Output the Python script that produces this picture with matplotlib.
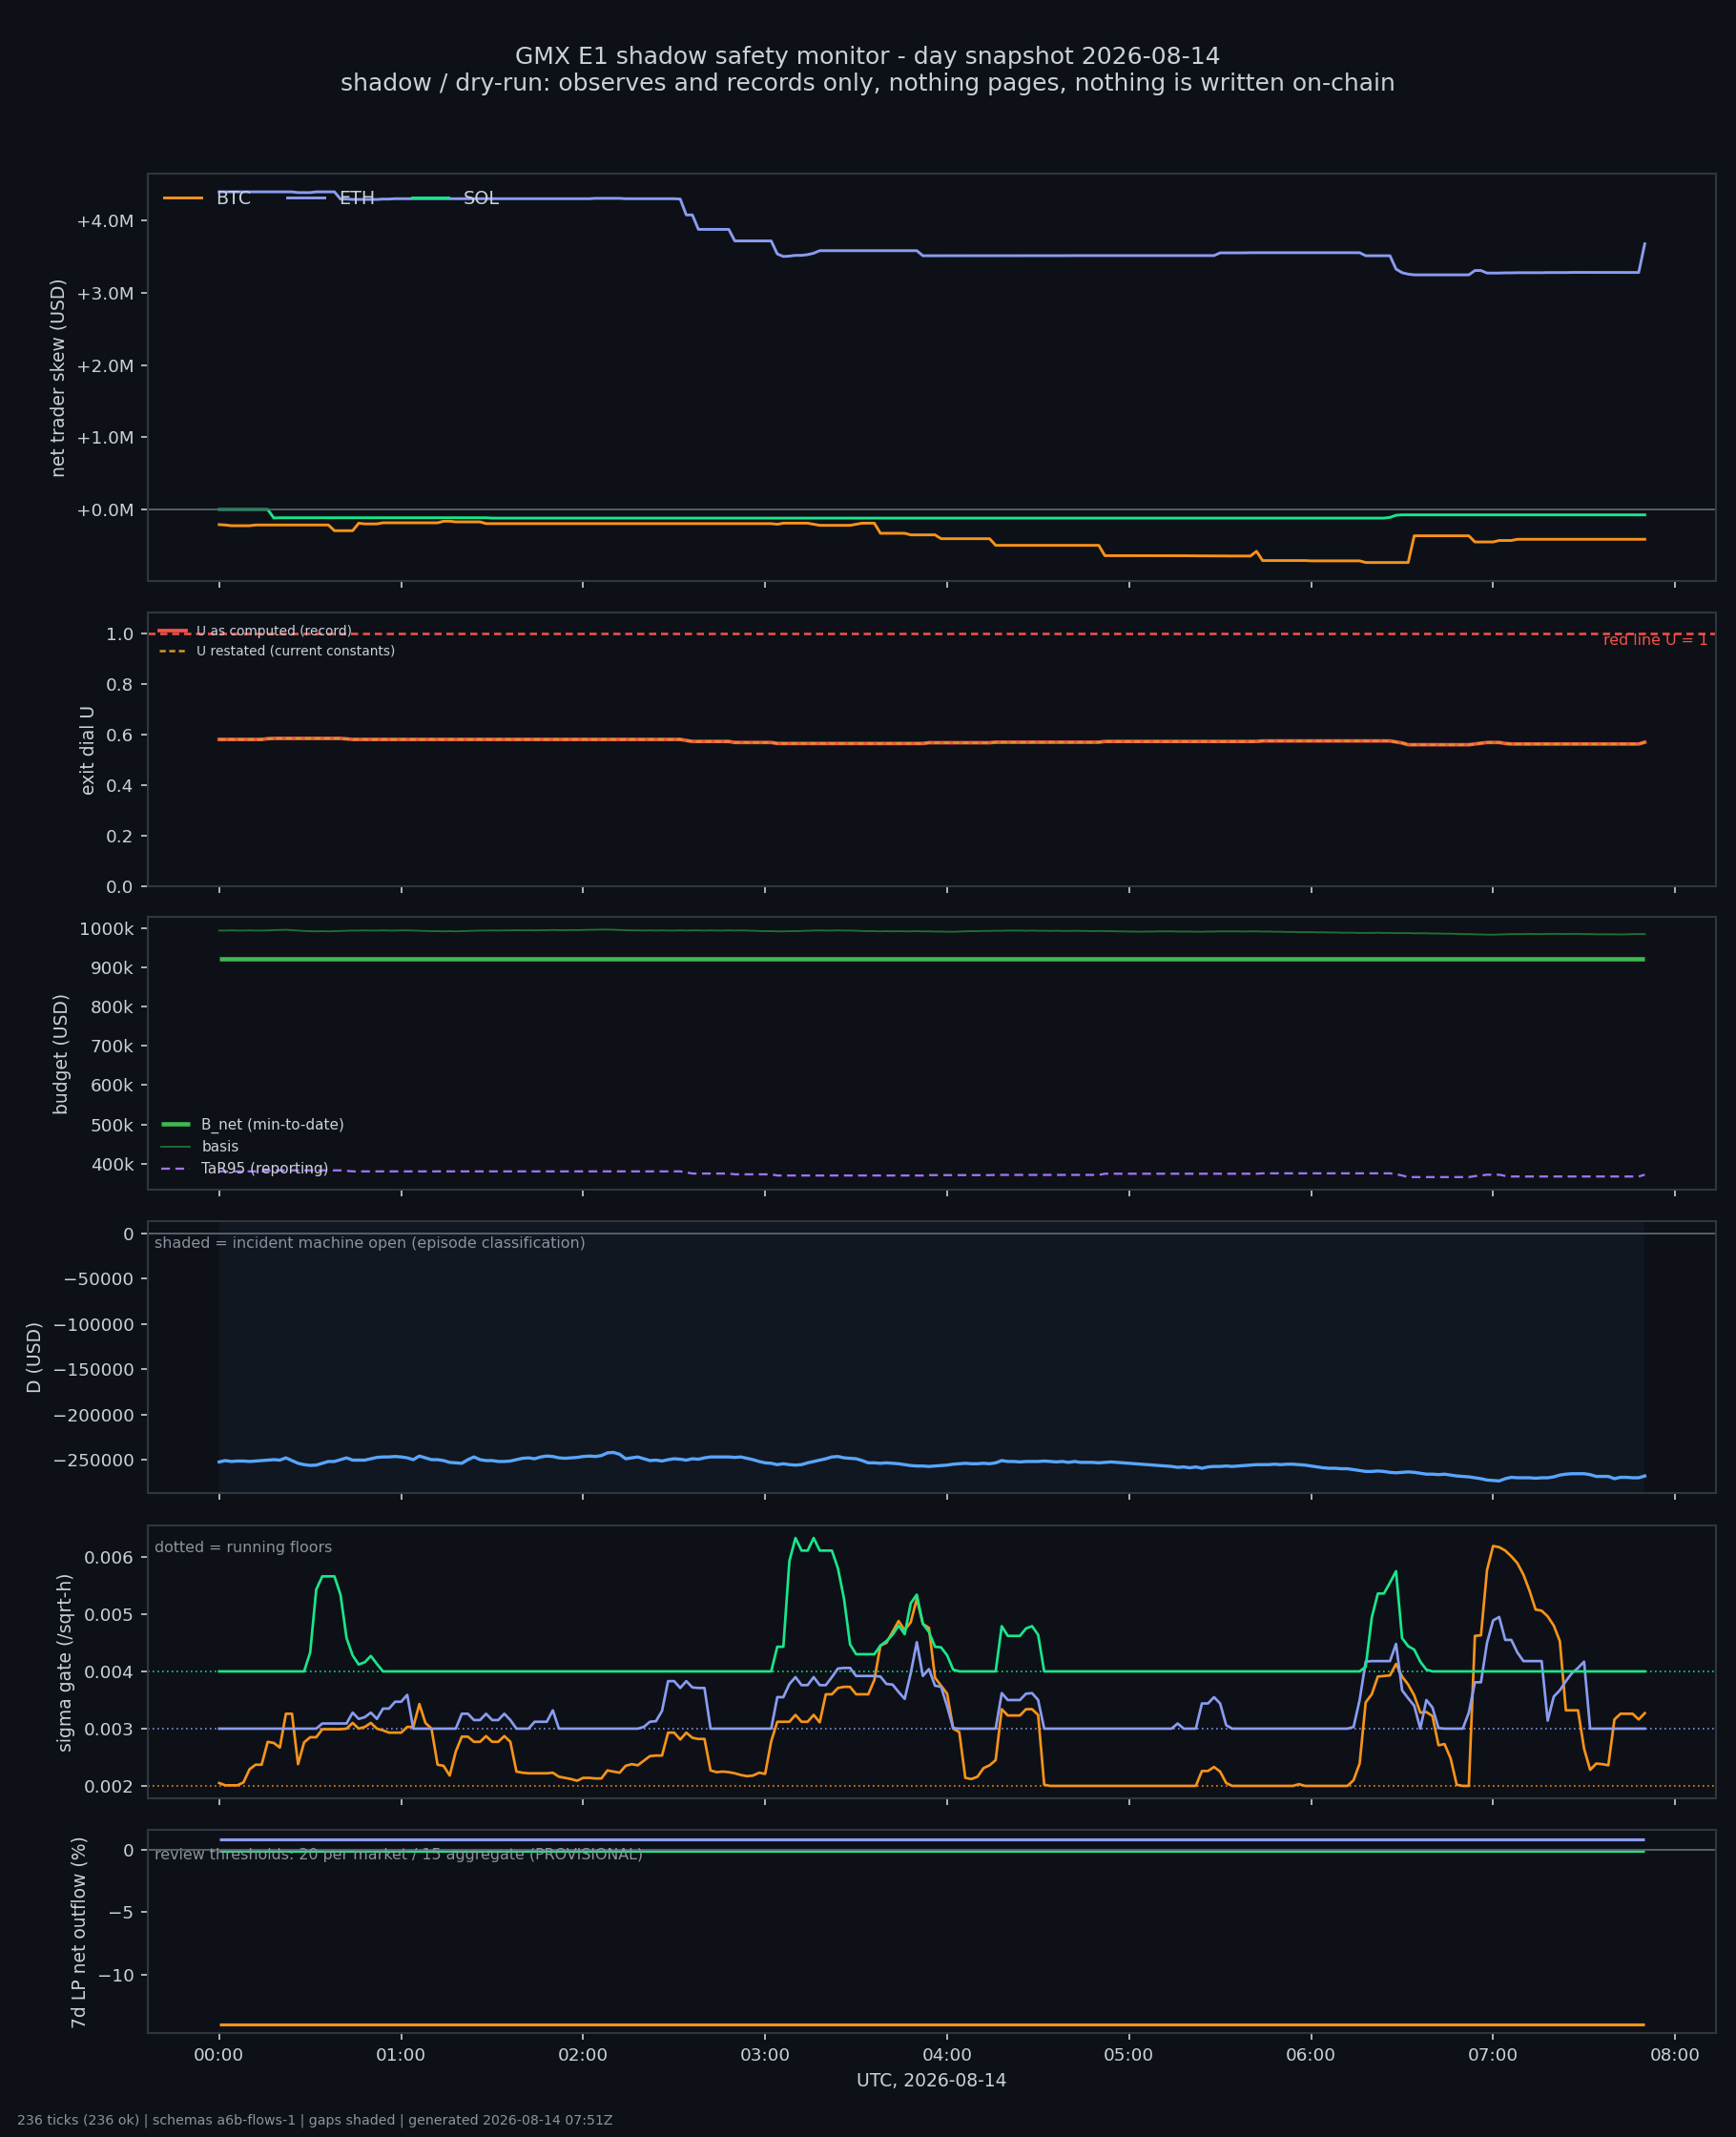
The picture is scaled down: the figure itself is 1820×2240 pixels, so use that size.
import numpy as np
import pandas as pd
import matplotlib
matplotlib.use("Agg")
import matplotlib.pyplot as plt
import matplotlib.dates as mdates
from matplotlib.ticker import FuncFormatter

# ---------------- data (236 ticks, 2-minute cadence) ----------------
tick_start = "2026-08-14 00:00"
n_ticks = 236
tick_freq = "2min"
markets = ["BTC", "ETH", "SOL"]

# net trader skew, USD millions
skew_btc = [
    -0.21, -0.215, -0.225, -0.225, -0.225, -0.225, -0.215, -0.215, -0.215, -0.215,
    -0.215, -0.215, -0.215, -0.215, -0.215, -0.215, -0.215, -0.215, -0.215, -0.294,
    -0.294, -0.294, -0.294, -0.19, -0.2, -0.2, -0.2, -0.185, -0.185, -0.185,
    -0.185, -0.185, -0.185, -0.185, -0.185, -0.185, -0.185, -0.163, -0.163, -0.172,
    -0.172, -0.172, -0.172, -0.172, -0.196, -0.196, -0.196, -0.196, -0.196, -0.196,
    -0.196, -0.196, -0.196, -0.196, -0.196, -0.196, -0.196, -0.196, -0.196, -0.196,
    -0.196, -0.196, -0.196, -0.196, -0.196, -0.196, -0.196, -0.196, -0.196, -0.196,
    -0.196, -0.196, -0.196, -0.196, -0.196, -0.196, -0.196, -0.196, -0.196, -0.196,
    -0.196, -0.196, -0.196, -0.196, -0.196, -0.196, -0.196, -0.196, -0.196, -0.196,
    -0.196, -0.196, -0.205, -0.19, -0.19, -0.19, -0.19, -0.19, -0.205, -0.22,
    -0.22, -0.22, -0.22, -0.22, -0.22, -0.205, -0.19, -0.19, -0.19, -0.33,
    -0.33, -0.33, -0.33, -0.33, -0.352, -0.352, -0.352, -0.352, -0.352, -0.405,
    -0.405, -0.405, -0.405, -0.405, -0.405, -0.405, -0.405, -0.405, -0.497, -0.497,
    -0.497, -0.497, -0.497, -0.497, -0.497, -0.497, -0.497, -0.497, -0.497, -0.497,
    -0.497, -0.497, -0.497, -0.497, -0.497, -0.497, -0.64, -0.64, -0.64, -0.64,
    -0.64, -0.64, -0.64, -0.64, -0.64, -0.641, -0.641, -0.641, -0.641, -0.641,
    -0.642, -0.642, -0.643, -0.643, -0.644, -0.644, -0.645, -0.645, -0.645, -0.645,
    -0.645, -0.58, -0.708, -0.708, -0.708, -0.708, -0.708, -0.708, -0.708, -0.708,
    -0.712, -0.712, -0.712, -0.712, -0.712, -0.712, -0.712, -0.712, -0.712, -0.735,
    -0.735, -0.735, -0.735, -0.735, -0.735, -0.735, -0.735, -0.365, -0.365, -0.365,
    -0.365, -0.365, -0.365, -0.365, -0.365, -0.365, -0.365, -0.45, -0.45, -0.45,
    -0.45, -0.43, -0.43, -0.43, -0.413, -0.413, -0.413, -0.413, -0.413, -0.413,
    -0.413, -0.413, -0.413, -0.413, -0.413, -0.413, -0.413, -0.413, -0.413, -0.413,
    -0.413, -0.413, -0.413, -0.413, -0.413, -0.413,
]
skew_eth = [
    4.40, 4.40, 4.40, 4.40, 4.40, 4.40, 4.40, 4.40, 4.40, 4.40,
    4.40, 4.40, 4.40, 4.39, 4.39, 4.39, 4.40, 4.40, 4.40, 4.40,
    4.30, 4.30, 4.295, 4.295, 4.295, 4.295, 4.295, 4.30, 4.30, 4.305,
    4.305, 4.305, 4.305, 4.305, 4.305, 4.305, 4.305, 4.305, 4.305, 4.305,
    4.305, 4.305, 4.305, 4.305, 4.305, 4.305, 4.305, 4.305, 4.305, 4.305,
    4.305, 4.305, 4.305, 4.305, 4.305, 4.305, 4.305, 4.305, 4.305, 4.305,
    4.305, 4.305, 4.31, 4.31, 4.31, 4.31, 4.31, 4.305, 4.305, 4.305,
    4.305, 4.305, 4.305, 4.305, 4.305, 4.305, 4.30, 4.08, 4.08, 3.88,
    3.88, 3.88, 3.88, 3.88, 3.88, 3.72, 3.72, 3.72, 3.72, 3.72,
    3.72, 3.72, 3.54, 3.505, 3.51, 3.52, 3.52, 3.53, 3.55, 3.585,
    3.585, 3.585, 3.585, 3.585, 3.585, 3.585, 3.585, 3.585, 3.585, 3.585,
    3.585, 3.585, 3.585, 3.585, 3.585, 3.585, 3.515, 3.515, 3.515, 3.515,
    3.515, 3.515, 3.515, 3.515, 3.515, 3.515, 3.515, 3.515, 3.515, 3.515,
    3.515, 3.515, 3.515, 3.515, 3.516, 3.516, 3.516, 3.516, 3.516, 3.516,
    3.517, 3.517, 3.517, 3.517, 3.517, 3.517, 3.517, 3.517, 3.517, 3.517,
    3.517, 3.517, 3.517, 3.517, 3.517, 3.517, 3.517, 3.517, 3.517, 3.517,
    3.517, 3.517, 3.517, 3.517, 3.517, 3.555, 3.555, 3.555, 3.555, 3.555,
    3.557, 3.557, 3.557, 3.557, 3.557, 3.557, 3.557, 3.557, 3.557, 3.557,
    3.557, 3.557, 3.557, 3.557, 3.557, 3.557, 3.557, 3.557, 3.557, 3.515,
    3.515, 3.515, 3.515, 3.515, 3.33, 3.28, 3.26, 3.25, 3.25, 3.25,
    3.25, 3.25, 3.25, 3.25, 3.25, 3.25, 3.25, 3.31, 3.31, 3.275,
    3.275, 3.275, 3.278, 3.278, 3.28, 3.28, 3.28, 3.28, 3.28, 3.282,
    3.282, 3.282, 3.282, 3.284, 3.284, 3.284, 3.284, 3.284, 3.284, 3.283,
    3.283, 3.283, 3.283, 3.283, 3.283, 3.68,
]
skew_sol = [
    0.0, 0.0, 0.0, 0.0, 0.0, 0.0, 0.0, 0.0, 0.0, -0.118,
    -0.115, -0.115, -0.115, -0.115, -0.115, -0.115, -0.115, -0.115, -0.115, -0.115,
    -0.115, -0.115, -0.115, -0.115, -0.115, -0.115, -0.115, -0.115, -0.115, -0.115,
    -0.115, -0.115, -0.115, -0.115, -0.115, -0.115, -0.115, -0.115, -0.115, -0.115,
    -0.115, -0.115, -0.115, -0.115, -0.115, -0.12, -0.12, -0.12, -0.12, -0.12,
    -0.12, -0.12, -0.12, -0.12, -0.12, -0.12, -0.12, -0.12, -0.12, -0.12,
    -0.12, -0.12, -0.12, -0.12, -0.12, -0.12, -0.12, -0.12, -0.12, -0.12,
    -0.12, -0.12, -0.12, -0.12, -0.12, -0.12, -0.12, -0.12, -0.12, -0.12,
    -0.12, -0.12, -0.12, -0.12, -0.12, -0.12, -0.12, -0.12, -0.12, -0.12,
    -0.12, -0.12, -0.12, -0.12, -0.12, -0.12, -0.12, -0.12, -0.12, -0.12,
    -0.12, -0.12, -0.12, -0.12, -0.12, -0.12, -0.12, -0.12, -0.12, -0.12,
    -0.12, -0.12, -0.12, -0.12, -0.12, -0.12, -0.12, -0.12, -0.12, -0.12,
    -0.12, -0.12, -0.12, -0.12, -0.12, -0.12, -0.12, -0.12, -0.12, -0.12,
    -0.12, -0.12, -0.12, -0.12, -0.12, -0.12, -0.12, -0.12, -0.12, -0.12,
    -0.12, -0.12, -0.12, -0.12, -0.12, -0.12, -0.12, -0.12, -0.12, -0.12,
    -0.12, -0.12, -0.12, -0.12, -0.12, -0.12, -0.12, -0.12, -0.12, -0.12,
    -0.12, -0.12, -0.12, -0.12, -0.12, -0.12, -0.12, -0.12, -0.12, -0.12,
    -0.12, -0.12, -0.12, -0.12, -0.12, -0.12, -0.12, -0.12, -0.12, -0.12,
    -0.12, -0.12, -0.12, -0.12, -0.12, -0.12, -0.12, -0.12, -0.12, -0.12,
    -0.12, -0.12, -0.12, -0.11, -0.08, -0.075, -0.075, -0.075, -0.075, -0.075,
    -0.075, -0.075, -0.075, -0.075, -0.075, -0.075, -0.075, -0.075, -0.075, -0.075,
    -0.075, -0.075, -0.075, -0.075, -0.075, -0.075, -0.075, -0.075, -0.075, -0.075,
    -0.075, -0.075, -0.075, -0.075, -0.075, -0.075, -0.075, -0.075, -0.075, -0.075,
    -0.075, -0.075, -0.075, -0.075, -0.075, -0.075,
]

# exit dial U (as computed; restated series identical on this day)
u_computed = [
    .580, .580, .580, .580, .580, .580, .580, .580, .583, .584,
    .584, .584, .584, .584, .584, .584, .584, .584, .584, .584,
    .584, .582, .580, .580, .580, .580, .580, .580, .580, .580,
    .580, .580, .580, .580, .580, .580, .580, .580, .580, .580,
    .580, .580, .580, .580, .580, .580, .580, .580, .580, .580,
    .580, .580, .580, .580, .580, .580, .580, .580, .580, .580,
    .580, .580, .580, .580, .580, .580, .580, .580, .580, .580,
    .580, .580, .580, .580, .580, .580, .580, .576, .572, .572,
    .572, .572, .572, .572, .572, .568, .568, .568, .568, .568,
    .568, .568, .564, .564, .564, .564, .564, .564, .564, .564,
    .564, .564, .564, .564, .564, .564, .564, .564, .564, .564,
    .564, .564, .564, .564, .564, .564, .564, .567, .567, .567,
    .567, .567, .567, .567, .567, .567, .567, .567, .569, .569,
    .569, .569, .569, .569, .569, .569, .569, .569, .569, .569,
    .569, .569, .569, .569, .569, .569, .572, .572, .572, .572,
    .572, .572, .572, .572, .572, .572, .572, .572, .572, .572,
    .572, .572, .572, .572, .572, .572, .572, .572, .572, .572,
    .572, .572, .574, .574, .574, .574, .574, .574, .574, .574,
    .574, .574, .574, .574, .574, .574, .574, .574, .574, .574,
    .574, .574, .574, .574, .570, .566, .559, .559, .559, .559,
    .559, .559, .559, .559, .559, .559, .559, .562, .565, .568,
    .568, .568, .564, .562, .562, .562, .562, .562, .562, .562,
    .562, .562, .562, .562, .562, .562, .562, .562, .562, .562,
    .562, .562, .562, .562, .562, .569,
]
u_restated = list(u_computed)
u_red_line = 1.0

# budget, USD thousands
b_net_k = 921.0
basis_k = [
    993, 993, 993.5, 993, 993, 993.5, 993, 993, 993.5, 994,
    994.5, 995, 994, 993, 992, 991.5, 991, 991.5, 991, 991.5,
    992, 992.5, 993, 993, 993.5, 993, 993, 993.5, 993, 993,
    993.5, 993.5, 993, 992.5, 992, 991.5, 991.5, 991, 991.5, 991,
    991.5, 992, 992.5, 993, 993, 993.5, 993, 993.5, 993.5, 994,
    993.5, 994, 993.5, 994, 994, 994.5, 994, 994, 994.5, 994,
    994.5, 995, 995, 995.5, 995.5, 995, 994.5, 994, 993.5, 993.5,
    993, 993.5, 993, 993.5, 993, 993, 993.5, 993, 993.5, 993.5,
    993, 993.5, 993, 993, 993.5, 993, 993.5, 993, 992.5, 992,
    991.5, 991.5, 991, 991, 991.5, 991.5, 992, 992.5, 993, 993.5,
    993, 993, 993.5, 993, 993, 992.5, 992, 991.5, 991.5, 991,
    991.5, 991, 991.5, 991, 991, 991.5, 991, 991, 990.5, 990.5,
    990, 990, 990.5, 991, 991.5, 991.5, 992, 992, 992.5, 992.5,
    993, 993, 993, 992.5, 993, 992.5, 992.5, 992, 992.5, 992,
    992, 992.5, 992, 992, 991.5, 992, 991.5, 991.5, 991, 991,
    990.5, 990.5, 990, 990.5, 990.5, 991, 991, 991, 990.5, 990.5,
    990.5, 990, 990, 990.5, 990.5, 991, 991, 991, 991, 990.5,
    991, 991, 990.5, 990.5, 990, 990, 989.5, 989.5, 989, 989,
    989, 988.5, 988.5, 988, 988, 987.5, 987.5, 987.5, 987, 987,
    987, 987.5, 987, 987, 986.5, 986.5, 986.5, 986, 986, 986,
    985.5, 985.5, 985, 985, 984.5, 984, 984, 983.5, 983, 982.5,
    982.5, 983, 983.5, 984, 984, 984, 984.5, 984, 984, 984.5,
    984.5, 984.5, 984, 984.5, 984.5, 984, 984, 983.5, 983.5, 983.5,
    983.5, 983, 983.5, 984, 984, 984,
]
tar95_k = [
    380.5, 380.5, 380.5, 380.5, 380.5, 380.5, 380.5, 380.5, 382, 383,
    383, 383, 383, 383, 383, 383, 383, 383, 383, 383,
    383, 382, 380.5, 380.5, 380.5, 380.5, 380.5, 380.5, 380.5, 380.5,
    380.5, 380.5, 380.5, 380.5, 380.5, 380.5, 380.5, 380.5, 380.5, 380.5,
    380.5, 380.5, 380.5, 380.5, 380.5, 380.5, 380.5, 380.5, 380.5, 380.5,
    380.5, 380.5, 380.5, 380.5, 380.5, 380.5, 380.5, 380.5, 380.5, 380.5,
    380.5, 380.5, 380.5, 380.5, 380.5, 380.5, 380.5, 380.5, 380.5, 380.5,
    380.5, 380.5, 380.5, 380.5, 380.5, 380.5, 380.5, 378, 375, 375,
    375, 375, 375, 375, 375, 373, 373, 373, 373, 373,
    373, 373, 370, 370, 370, 370, 370, 370, 370, 370,
    370, 370, 370, 370, 370, 370, 370, 370, 370, 370,
    370, 370, 370, 370, 370, 370, 370, 371, 371, 371,
    371, 371, 371, 371, 371, 371, 371, 371, 371.5, 371.5,
    371.5, 371.5, 371.5, 371.5, 371.5, 371.5, 371.5, 371.5, 371.5, 371.5,
    371.5, 371.5, 371.5, 371.5, 371.5, 371.5, 374.5, 374.5, 374.5, 374.5,
    374.5, 374.5, 374.5, 374.5, 374.5, 374.5, 374.5, 374.5, 374.5, 374.5,
    374.5, 374.5, 374.5, 374.5, 374.5, 374.5, 374.5, 374.5, 374.5, 374.5,
    374.5, 374.5, 375.5, 375.5, 375.5, 375.5, 375.5, 375.5, 375.5, 375.5,
    375.5, 375.5, 375.5, 375.5, 375.5, 375.5, 375.5, 375.5, 375.5, 375.5,
    375.5, 375.5, 375.5, 375.5, 373.5, 370, 366, 366, 366, 366,
    366, 366, 366, 366, 366, 366, 366, 368.5, 370, 372,
    372, 372, 369, 367.5, 367.5, 367.5, 367.5, 367.5, 367.5, 367.5,
    367.5, 367.5, 367.5, 367.5, 367.5, 367.5, 367.5, 367.5, 367.5, 367.5,
    367.5, 367.5, 367.5, 367.5, 367.5, 372,
]

# D, USD thousands
d_k = [
    -252.5, -251, -252, -251.5, -251.5, -252, -251.5, -251, -250.5, -250,
    -250.5, -248, -251, -254, -255.5, -256.3, -256, -254, -252, -252,
    -250, -248, -250.5, -250.5, -250.5, -249, -247.5, -247, -247, -246.5,
    -247, -248, -250, -246, -248, -250, -250, -251, -253, -253.5,
    -254, -250, -247, -250, -251, -251, -252, -252, -251.5, -250,
    -248.5, -248, -249, -247, -246, -246.5, -248, -248.5, -248, -247.5,
    -246.5, -246, -246.5, -245.5, -242.5, -242, -244, -249, -248, -247,
    -249, -251, -250.5, -251.5, -250, -249, -249.5, -250.5, -249, -249.5,
    -248, -247, -247, -247, -247, -247.5, -247, -248.5, -250, -252,
    -253.5, -254, -255.5, -254.5, -255.5, -256, -255.5, -253.5, -252, -250.5,
    -249, -247, -246.5, -248, -248.5, -249, -251, -253.5, -253.5, -254,
    -253.5, -254, -254.5, -255.5, -256.5, -257, -257, -257.5, -257, -256.5,
    -256, -255, -254.5, -254, -254.5, -254.5, -254, -254.5, -253.5, -251,
    -252, -252, -252.5, -252, -252, -252, -251.5, -252, -252.5, -252,
    -253, -252, -253, -253, -253, -253.5, -253, -252.5, -253, -253.5,
    -254, -254.5, -255, -255.5, -256, -256.5, -257, -257.5, -258.5, -258,
    -259, -258, -259.5, -258, -257.5, -257.5, -257, -257.5, -257, -256.5,
    -256, -255.5, -255.5, -255.5, -255, -255.5, -255, -255, -255.5, -256,
    -257, -258, -259, -259.5, -259.5, -260, -260, -261, -262, -263,
    -263, -262.5, -263, -264, -264.5, -264, -263.5, -264, -265, -266,
    -266, -266.5, -266, -267, -268, -268.5, -269, -270, -271, -272.5,
    -273, -273.5, -271, -269.5, -270, -270, -270, -270.5, -270, -270,
    -269, -267, -266, -265.5, -265.5, -265.5, -266.5, -268.5, -268.5, -268.5,
    -271, -269.5, -269.5, -270, -270, -268,
]

# sigma gate, units of 1e-3 /sqrt-h
sig_btc = [
    2.05, 2.01, 2.01, 2.01, 2.06, 2.29, 2.37, 2.37, 2.77, 2.75,
    2.67, 3.26, 3.26, 2.38, 2.76, 2.85, 2.85, 2.99, 2.99, 2.99,
    2.99, 3.0, 3.1, 3.0, 3.03, 3.1, 3.0, 2.97, 2.93, 2.93,
    2.93, 3.03, 3.03, 3.43, 3.1, 3.0, 2.37, 2.35, 2.18, 2.6,
    2.86, 2.86, 2.77, 2.77, 2.87, 2.77, 2.77, 2.87, 2.77, 2.25,
    2.23, 2.22, 2.22, 2.22, 2.22, 2.23, 2.16, 2.14, 2.12, 2.09,
    2.14, 2.14, 2.13, 2.13, 2.27, 2.25, 2.23, 2.35, 2.38, 2.36,
    2.44, 2.52, 2.53, 2.53, 2.93, 2.93, 2.81, 2.93, 2.84, 2.82,
    2.82, 2.27, 2.24, 2.25, 2.24, 2.22, 2.19, 2.17, 2.18, 2.23,
    2.21, 2.78, 3.12, 3.12, 3.12, 3.24, 3.12, 3.12, 3.24, 3.11,
    3.6, 3.6, 3.71, 3.73, 3.73, 3.6, 3.6, 3.6, 3.85, 4.45,
    4.5, 4.69, 4.88, 4.72, 4.86, 5.27, 4.83, 4.76, 3.89, 3.75,
    3.61, 3.0, 2.94, 2.14, 2.12, 2.16, 2.31, 2.36, 2.45, 3.34,
    3.23, 3.23, 3.23, 3.34, 3.34, 3.24, 2.02, 2.0, 2.0, 2.0,
    2.0, 2.0, 2.0, 2.0, 2.0, 2.0, 2.0, 2.0, 2.0, 2.0,
    2.0, 2.0, 2.0, 2.0, 2.0, 2.0, 2.0, 2.0, 2.0, 2.0,
    2.0, 2.0, 2.26, 2.26, 2.33, 2.25, 2.05, 2.0, 2.0, 2.0,
    2.0, 2.0, 2.0, 2.0, 2.0, 2.0, 2.0, 2.0, 2.03, 2.0,
    2.0, 2.0, 2.0, 2.0, 2.0, 2.0, 2.0, 2.1, 2.39, 3.46,
    3.6, 3.91, 3.92, 3.93, 4.13, 3.91, 3.77, 3.58, 3.28, 3.29,
    3.22, 2.71, 2.73, 2.48, 2.02, 2.0, 2.0, 4.62, 4.63, 5.77,
    6.19, 6.17, 6.11, 6.01, 5.89, 5.69, 5.41, 5.08, 5.06, 4.96,
    4.8, 4.53, 3.32, 3.32, 3.32, 2.65, 2.28, 2.39, 2.38, 2.36,
    3.16, 3.26, 3.26, 3.26, 3.16, 3.27,
]
sig_eth = [
    3.0, 3.0, 3.0, 3.0, 3.0, 3.0, 3.0, 3.0, 3.0, 3.0,
    3.0, 3.0, 3.0, 3.0, 3.0, 3.0, 3.0, 3.09, 3.09, 3.09,
    3.09, 3.09, 3.28, 3.17, 3.2, 3.28, 3.17, 3.35, 3.35, 3.47,
    3.47, 3.59, 3.0, 3.0, 3.0, 3.0, 3.0, 3.0, 3.0, 3.0,
    3.26, 3.26, 3.15, 3.15, 3.26, 3.15, 3.15, 3.26, 3.15, 3.0,
    3.0, 3.0, 3.12, 3.12, 3.12, 3.32, 3.0, 3.0, 3.0, 3.0,
    3.0, 3.0, 3.0, 3.0, 3.0, 3.0, 3.0, 3.0, 3.0, 3.0,
    3.03, 3.12, 3.13, 3.31, 3.83, 3.83, 3.71, 3.83, 3.72, 3.71,
    3.71, 3.0, 3.0, 3.0, 3.0, 3.0, 3.0, 3.0, 3.0, 3.0,
    3.0, 3.0, 3.55, 3.55, 3.78, 3.9, 3.76, 3.76, 3.9, 3.76,
    3.76, 3.9, 4.05, 4.06, 4.06, 3.92, 3.92, 3.92, 3.92, 3.91,
    3.78, 3.77, 3.64, 3.52, 3.97, 4.51, 3.92, 4.04, 3.75, 3.73,
    3.39, 3.01, 3.0, 3.0, 3.0, 3.0, 3.0, 3.0, 3.0, 3.62,
    3.5, 3.5, 3.5, 3.61, 3.62, 3.5, 3.0, 3.0, 3.0, 3.0,
    3.0, 3.0, 3.0, 3.0, 3.0, 3.0, 3.0, 3.0, 3.0, 3.0,
    3.0, 3.0, 3.0, 3.0, 3.0, 3.0, 3.0, 3.0, 3.09, 3.0,
    3.0, 3.0, 3.44, 3.44, 3.55, 3.44, 3.06, 3.0, 3.0, 3.0,
    3.0, 3.0, 3.0, 3.0, 3.0, 3.0, 3.0, 3.0, 3.0, 3.0,
    3.0, 3.0, 3.0, 3.0, 3.0, 3.0, 3.0, 3.03, 3.5, 4.17,
    4.18, 4.18, 4.18, 4.18, 4.48, 3.67, 3.53, 3.4, 3.0, 3.5,
    3.37, 3.01, 3.0, 3.0, 3.0, 3.0, 3.28, 3.81, 3.81, 4.5,
    4.89, 4.95, 4.55, 4.55, 4.33, 4.18, 4.18, 4.18, 4.18, 3.14,
    3.56, 3.67, 3.83, 3.97, 4.06, 4.17, 3.0, 3.0, 3.0, 3.0,
    3.0, 3.0, 3.0, 3.0, 3.0, 3.0,
]
sig_sol = [
    4.0, 4.0, 4.0, 4.0, 4.0, 4.0, 4.0, 4.0, 4.0, 4.0,
    4.0, 4.0, 4.0, 4.0, 4.0, 4.33, 5.43, 5.66, 5.66, 5.66,
    5.34, 4.58, 4.28, 4.12, 4.16, 4.27, 4.13, 4.0, 4.0, 4.0,
    4.0, 4.0, 4.0, 4.0, 4.0, 4.0, 4.0, 4.0, 4.0, 4.0,
    4.0, 4.0, 4.0, 4.0, 4.0, 4.0, 4.0, 4.0, 4.0, 4.0,
    4.0, 4.0, 4.0, 4.0, 4.0, 4.0, 4.0, 4.0, 4.0, 4.0,
    4.0, 4.0, 4.0, 4.0, 4.0, 4.0, 4.0, 4.0, 4.0, 4.0,
    4.0, 4.0, 4.0, 4.0, 4.0, 4.0, 4.0, 4.0, 4.0, 4.0,
    4.0, 4.0, 4.0, 4.0, 4.0, 4.0, 4.0, 4.0, 4.0, 4.0,
    4.0, 4.0, 4.43, 4.43, 5.93, 6.33, 6.11, 6.11, 6.33, 6.11,
    6.11, 6.11, 5.8, 5.27, 4.47, 4.3, 4.3, 4.3, 4.3, 4.45,
    4.53, 4.64, 4.8, 4.65, 5.19, 5.34, 4.83, 4.69, 4.43, 4.42,
    4.28, 4.03, 4.0, 4.0, 4.0, 4.0, 4.0, 4.0, 4.0, 4.79,
    4.62, 4.62, 4.62, 4.75, 4.79, 4.64, 4.0, 4.0, 4.0, 4.0,
    4.0, 4.0, 4.0, 4.0, 4.0, 4.0, 4.0, 4.0, 4.0, 4.0,
    4.0, 4.0, 4.0, 4.0, 4.0, 4.0, 4.0, 4.0, 4.0, 4.0,
    4.0, 4.0, 4.0, 4.0, 4.0, 4.0, 4.0, 4.0, 4.0, 4.0,
    4.0, 4.0, 4.0, 4.0, 4.0, 4.0, 4.0, 4.0, 4.0, 4.0,
    4.0, 4.0, 4.0, 4.0, 4.0, 4.0, 4.0, 4.0, 4.0, 4.08,
    4.94, 5.36, 5.36, 5.55, 5.75, 4.58, 4.44, 4.38, 4.17, 4.03,
    4.0, 4.0, 4.0, 4.0, 4.0, 4.0, 4.0, 4.0, 4.0, 4.0,
    4.0, 4.0, 4.0, 4.0, 4.0, 4.0, 4.0, 4.0, 4.0, 4.0,
    4.0, 4.0, 4.0, 4.0, 4.0, 4.0, 4.0, 4.0, 4.0, 4.0,
    4.0, 4.0, 4.0, 4.0, 4.0, 4.0,
]
sigma_floors = {"BTC": 2.0, "ETH": 3.0, "SOL": 4.0}   # 1e-3

# 7d LP net outflow, percent (flat over the day)
lp_outflow = {"BTC": -13.9, "ETH": 0.8, "SOL": -0.08}

for name, arr in [("skew_btc", skew_btc), ("skew_eth", skew_eth), ("skew_sol", skew_sol),
                  ("u", u_computed), ("basis", basis_k), ("tar", tar95_k), ("d", d_k),
                  ("sb", sig_btc), ("se", sig_eth), ("ss", sig_sol)]:
    assert len(arr) == n_ticks, (name, len(arr))

# ---------------- style ----------------
BG = "#0d1117"
FG = "#c9d1d9"
MUTED = "#8b949e"
SPINE = "#30363d"
C_BTC = "#f7931a"
C_ETH = "#8a9cf0"
C_SOL = "#19e68c"
colors = {"BTC": C_BTC, "ETH": C_ETH, "SOL": C_SOL}

plt.rcParams["font.family"] = ["DejaVu Sans"]
plt.rcParams["axes.unicode_minus"] = True

times = pd.date_range(tick_start, periods=n_ticks, freq=tick_freq)

fig = plt.figure(figsize=(1820 / 150, 2240 / 150), dpi=150, facecolor=BG)

L, W = 0.0852, 0.9033
rects = [
    (L, 0.7281, W, 0.1908),
    (L, 0.5853, W, 0.1279),
    (L, 0.4434, W, 0.1274),
    (L, 0.3012, W, 0.1275),
    (L, 0.1585, W, 0.1276),
    (L, 0.0485, W, 0.0951),
]
axes = []
for k, r in enumerate(rects):
    ax = fig.add_axes(r, sharex=axes[0] if axes else None)
    ax.set_facecolor(BG)
    for s in ax.spines.values():
        s.set_color(SPINE)
        s.set_linewidth(1.0)
    ax.tick_params(colors=FG, labelcolor=FG, labelsize=8.8, length=3.5, width=0.8)
    axes.append(ax)
ax1, ax2, ax3, ax4, ax5, ax6 = axes

ZERO = "#5a626c"

# panel 1: net trader skew
skews = {"BTC": skew_btc, "ETH": skew_eth, "SOL": skew_sol}
for m in markets:
    ax1.plot(times, np.array(skews[m]) * 1e6, color=colors[m], lw=1.4, label=m)
ax1.axhline(0, color=ZERO, lw=0.9)
ax1.yaxis.set_major_formatter(FuncFormatter(lambda v, p: f"{v / 1e6:+.1f}M"))
ax1.set_ylabel("net trader skew (USD)", color=FG, fontsize=9)
ax1.legend(loc="upper left", ncol=3, frameon=False, fontsize=9.2, labelcolor=FG)

# panel 2: exit dial
ax2.plot(times, u_computed, color="#f85149", lw=1.8, label="U as computed (record)")
ax2.plot(times, u_restated, color="#d29922", lw=1.2, ls=(0, (2.5, 1.5)),
         label="U restated (current constants)")
ax2.axhline(u_red_line, color="#f85149", lw=1.2, ls=(0, (3, 2)))
ax2.text(0.995, 0.925, "red line U = 1", transform=ax2.transAxes, ha="right", va="top",
         color="#f85149", fontsize=7.6)
ax2.set_ylim(0, 1.08)
ax2.set_ylabel("exit dial U", color=FG, fontsize=9)
ax2.legend(loc="upper left", frameon=False, fontsize=6.6, labelcolor=FG)

# panel 3: budget
ax3.hlines(b_net_k * 1e3, times[0], times[-1], color="#3fb950", lw=2.2, label="B_net (min-to-date)")
ax3.plot(times, np.array(basis_k) * 1e3, color="#1f6f35", lw=0.9, label="basis")
ax3.plot(times, np.array(tar95_k) * 1e3, color="#a371f7", lw=1.1, ls=(0, (4, 2.5)),
         label="TaR95 (reporting)")
ax3.yaxis.set_major_formatter(FuncFormatter(lambda v, p: f"{v / 1e3:.0f}k"))
ax3.set_ylabel("budget (USD)", color=FG, fontsize=9)
ax3.legend(loc="lower left", frameon=False, fontsize=7.3, labelcolor=FG)

# panel 4: D
ax4.axvspan(times[0], times[-1], color="#58a6ff", alpha=0.045, lw=0)
ax4.plot(times, np.array(d_k) * 1e3, color="#58a6ff", lw=1.6)
ax4.axhline(0, color=ZERO, lw=0.9)
ax4.set_ylabel("D (USD)", color=FG, fontsize=9)
ax4.text(0.004, 0.917, "shaded = incident machine open (episode classification)",
         transform=ax4.transAxes, ha="left", va="center", color=MUTED, fontsize=7.6)

# panel 5: sigma gate
sigs = {"BTC": sig_btc, "ETH": sig_eth, "SOL": sig_sol}
for m in markets:
    ax5.axhline(sigma_floors[m] * 1e-3, color=colors[m], lw=0.8, ls=(0, (1, 2)), alpha=0.9)
for m in markets:
    ax5.plot(times, np.array(sigs[m]) * 1e-3, color=colors[m], lw=1.3)
ax5.set_ylabel("sigma gate (/sqrt-h)", color=FG, fontsize=9)
ax5.text(0.004, 0.92, "dotted = running floors", transform=ax5.transAxes,
         ha="left", va="center", color=MUTED, fontsize=7.6)

# panel 6: LP outflow
for m in markets:
    ax6.hlines(lp_outflow[m], times[0], times[-1], color=colors[m], lw=1.5)
ax6.axhline(0, color=ZERO, lw=0.9)
ax6.set_ylabel("7d LP net outflow (%)", color=FG, fontsize=9)
ax6.text(0.004, 0.878, "review thresholds: 20 per market / 15 aggregate (PROVISIONAL)",
         transform=ax6.transAxes, ha="left", va="center", color=MUTED, fontsize=7.6)

# x axis
ax6.xaxis.set_major_locator(mdates.HourLocator(interval=1))
ax6.xaxis.set_major_formatter(mdates.DateFormatter("%H:%M"))
for ax in axes[:-1]:
    ax.tick_params(labelbottom=False)
ax6.set_xlabel("UTC, 2026-08-14", color=FG, fontsize=9)

fig.suptitle("GMX E1 shadow safety monitor - day snapshot 2026-08-14\n"
             "shadow / dry-run: observes and records only, nothing pages, nothing is written on-chain",
             color=FG, fontsize=12, y=0.967, va="center", linespacing=1.25)
fig.text(0.01, 0.0076,
         "236 ticks (236 ok) | schemas a6b-flows-1 | gaps shaded | generated 2026-08-14 07:51Z",
         color=MUTED, fontsize=6.8, ha="left", va="center")

fig.savefig("out.png", dpi=150, facecolor=BG)
